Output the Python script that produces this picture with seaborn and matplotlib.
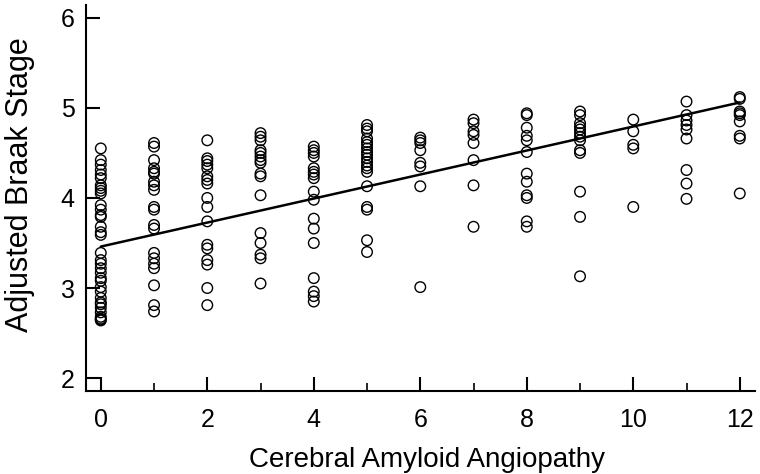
import numpy as np
import pandas as pd
import seaborn as sns
import matplotlib.pyplot as plt
from matplotlib.ticker import MultipleLocator

# Valores, por coluna de CAA (0 a 12)
caa_0 = [4.55, 4.42, 4.37, 4.31, 4.26, 4.22, 4.14, 4.11, 4.08, 4.05, 3.92, 3.87, 3.81, 3.79,
         3.68, 3.62, 3.59, 3.39, 3.31, 3.27, 3.22, 3.17, 3.11, 3.08, 3.01, 2.96, 2.89, 2.84,
         2.82, 2.78, 2.73, 2.68, 2.66, 2.65, 2.64]
caa_1 = [4.61, 4.57, 4.42, 4.33, 4.29, 4.27, 4.18, 4.14, 4.09, 3.90, 3.87, 3.70, 3.66,
         3.39, 3.33, 3.27, 3.22, 3.03, 2.81, 2.74]
caa_2 = [4.64, 4.44, 4.41, 4.37, 4.33, 4.24, 4.20, 4.16, 4.00, 3.90, 3.74, 3.48, 3.44,
         3.31, 3.26, 3.00, 2.81]
caa_3 = [4.72, 4.68, 4.64, 4.53, 4.50, 4.46, 4.42, 4.39, 4.27, 4.24, 4.03, 3.61, 3.50,
         3.37, 3.33, 3.05]
caa_4 = [4.57, 4.53, 4.50, 4.46, 4.33, 4.29, 4.26, 4.22, 4.07, 3.98, 3.77, 3.66, 3.50,
         3.11, 2.96, 2.91, 2.85]
caa_5 = [4.81, 4.77, 4.74, 4.66, 4.62, 4.59, 4.55, 4.51, 4.48, 4.44, 4.40, 4.36, 4.33,
         4.29, 4.13, 3.90, 3.87, 3.53, 3.40]
caa_6 = [4.67, 4.64, 4.61, 4.53, 4.39, 4.35, 4.13, 3.01]
caa_7 = [4.87, 4.83, 4.74, 4.70, 4.61, 4.42, 4.14, 3.68]
caa_8 = [4.94, 4.92, 4.78, 4.69, 4.64, 4.51, 4.27, 4.18, 4.03, 4.00, 3.74, 3.68]
caa_9 = [4.96, 4.92, 4.83, 4.79, 4.76, 4.72, 4.68, 4.64, 4.53, 4.50, 4.07, 3.79, 3.13]
caa_10 = [4.87, 4.74, 4.59, 4.55, 3.90]
caa_11 = [5.07, 4.92, 4.86, 4.81, 4.76, 4.66, 4.31, 4.16, 3.99]
caa_12 = [5.12, 5.10, 4.96, 4.94, 4.92, 4.85, 4.69, 4.66, 4.05]

colunas = [caa_0, caa_1, caa_2, caa_3, caa_4, caa_5, caa_6,
           caa_7, caa_8, caa_9, caa_10, caa_11, caa_12]

reta_x = [0, 12]
reta_y = [3.46, 5.06]

dados = pd.DataFrame({
    "CAA": np.concatenate([[i] * len(c) for i, c in enumerate(colunas)]),
    "Braak": np.concatenate(colunas),
})

sns.set_style("ticks")
plt.rcParams["font.family"] = ["Liberation Sans", "DejaVu Sans"]

fig = plt.figure(figsize=(7.6, 4.74), dpi=100)
ax = fig.add_axes([0.113, 0.175, 0.88, 0.814])

sns.scatterplot(data=dados, x="CAA", y="Braak", ax=ax, s=58, marker="o",
                facecolor="none", edgecolor="black", linewidth=1.0)
sns.lineplot(x=reta_x, y=reta_y, ax=ax, color="black", linewidth=1.8)

ax.set_xlim(-0.28, 12.28)
ax.set_ylim(1.856, 6.14)
ax.xaxis.set_major_locator(MultipleLocator(2))
ax.xaxis.set_minor_locator(MultipleLocator(1))
ax.yaxis.set_major_locator(MultipleLocator(1))

ax.tick_params(axis="both", which="major", direction="in", length=10, width=1.5,
               labelsize=18, color="black", labelcolor="black")
ax.tick_params(axis="x", which="minor", direction="in", length=6, width=1.2, color="black")
ax.tick_params(axis="y", pad=8)
ax.tick_params(axis="x", pad=12)

for lado in ["left", "bottom"]:
    ax.spines[lado].set_linewidth(1.5)
    ax.spines[lado].set_color("black")
sns.despine(ax=ax)

ax.set_xlabel("Cerebral Amyloid Angiopathy", fontsize=20, color="black")
ax.set_ylabel("Adjusted Braak Stage", fontsize=22, color="black")
ax.xaxis.set_label_coords(0.51, -0.145)
ax.yaxis.set_label_coords(-0.076, 0.534)

fig.savefig("out.png", dpi=100)
